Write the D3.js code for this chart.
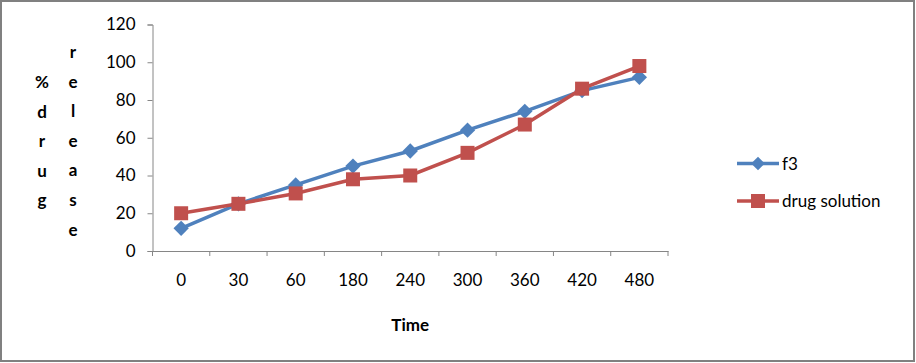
<!DOCTYPE html>
<html>
<head>
<meta charset="utf-8">
<script src="https://cdn.jsdelivr.net/npm/d3@7"></script>
<style>
  body { margin: 0; background: #fff; }
  svg text { font-family: Lato, "Open Sans", sans-serif; }
</style>
</head>
<body>
<div id="viz"></div>
<script>
// Data.
var times = ["0", "30", "60", "180", "240", "300", "360", "420", "480"];
var f3 = [12, 25, 35, 45, 53, 64, 74, 85, 92];
var drugSolution = [20, 25, 30.5, 38, 40, 52, 67, 86, 98];
var yTicks = [0, 20, 40, 60, 80, 100, 120];
var seriesNames = ["f3", "drug solution"];

var W = 916, H = 363;
var plotLeft = 152.5, plotRight = 668, plotTop = 24.5, plotBottom = 251;
var blue = "#4F81BD", red = "#C0504D", axisGray = "#868686";
var fs = "17px";

var svg = d3.select("#viz")
	.append("svg")
	.attr("width", W)
	.attr("height", H);

// Outer border.
svg.append("rect")
	.attr("x", 1).attr("y", 1)
	.attr("width", W - 3).attr("height", H - 3)
	.style("fill", "#fff")
	.style("stroke", "#808080")
	.style("stroke-width", 2);

var x = d3.scaleBand().domain(times).range([plotLeft, plotRight]);
var y = d3.scaleLinear().domain([0, 120]).range([plotBottom, plotTop]);

// Y axis.
var yAxis = svg.append("g")
	.attr("transform", "translate(" + plotLeft + ",0)")
	.call(d3.axisLeft(y).tickValues(yTicks).tickSize(5).tickPadding(12));
yAxis.selectAll("line, path").style("stroke", axisGray);
yAxis.selectAll("text").style("font-size", fs).style("fill", "#000");

// X axis.
var xAxis = svg.append("g")
	.attr("transform", "translate(0," + plotBottom + ")")
	.call(d3.axisBottom(x).tickSize(0).tickPadding(23));
xAxis.select("path").style("stroke", axisGray);
xAxis.selectAll("text").style("font-size", fs).style("fill", "#000");
// Tick marks between categories.
var bounds = times.map(function (t) { return x(t); }).concat([plotRight]);
xAxis.selectAll(".sep")
	.data(bounds)
	.enter().append("line")
	.attr("x1", function (d) { return d; })
	.attr("x2", function (d) { return d; })
	.attr("y1", 0).attr("y2", 5)
	.style("stroke", axisGray);

// Axis titles.
svg.append("text")
	.attr("x", (plotLeft + plotRight) / 2).attr("y", 331)
	.attr("text-anchor", "middle")
	.style("font-size", fs).style("font-weight", "bold")
	.text("Time");

var col1 = "%drug".split("");
var col2 = "release".split("");
svg.selectAll(".t1").data(col1).enter().append("text")
	.attr("x", 42).attr("y", function (d, i) { return 88 + i * 29.6; })
	.attr("text-anchor", "middle")
	.style("font-size", fs).style("font-weight", "bold")
	.text(function (d) { return d; });
svg.selectAll(".t2").data(col2).enter().append("text")
	.attr("x", 73).attr("y", function (d, i) { return 58 + i * 29.6; })
	.attr("text-anchor", "middle")
	.style("font-size", fs).style("font-weight", "bold")
	.text(function (d) { return d; });

var cx = function (d, i) { return x(times[i]) + x.bandwidth() / 2; };
var line = d3.line()
	.x(function (d, i) { return x(times[i]) + x.bandwidth() / 2; })
	.y(function (d) { return y(d); });

// f3 series.
svg.append("path").datum(f3)
	.attr("d", line)
	.style("fill", "none").style("stroke", blue).style("stroke-width", 3.5);
svg.selectAll(".dia").data(f3).enter().append("path")
	.attr("d", d3.symbol().type(d3.symbolDiamond2).size(150))
	.attr("transform", function (d, i) { return "translate(" + cx(d, i) + "," + y(d) + ")"; })
	.style("fill", blue);

// Drug solution series.
svg.append("path").datum(drugSolution)
	.attr("d", line)
	.style("fill", "none").style("stroke", red).style("stroke-width", 3.5);
svg.selectAll(".sq").data(drugSolution).enter().append("rect")
	.attr("x", function (d, i) { return cx(d, i) - 7; })
	.attr("y", function (d) { return y(d) - 7; })
	.attr("width", 14).attr("height", 14)
	.style("fill", red);

// Legend.
var legend = svg.append("g");
var colors = [blue, red];
seriesNames.forEach(function (name, i) {
	var ly = 163.5 + i * 37.5;
	legend.append("line")
		.attr("x1", 737).attr("x2", 779).attr("y1", ly).attr("y2", ly)
		.style("stroke", colors[i]).style("stroke-width", 3.5);
	if (i === 0) {
		legend.append("path")
			.attr("d", d3.symbol().type(d3.symbolDiamond2).size(120))
			.attr("transform", "translate(758," + ly + ")")
			.style("fill", blue);
	} else {
		legend.append("rect")
			.attr("x", 751).attr("y", ly - 7).attr("width", 14).attr("height", 14)
			.style("fill", red);
	}
	legend.append("text")
		.attr("x", 782).attr("y", ly + 6)
		.style("font-size", fs)
		.text(name);
});
</script>
</body>
</html>
